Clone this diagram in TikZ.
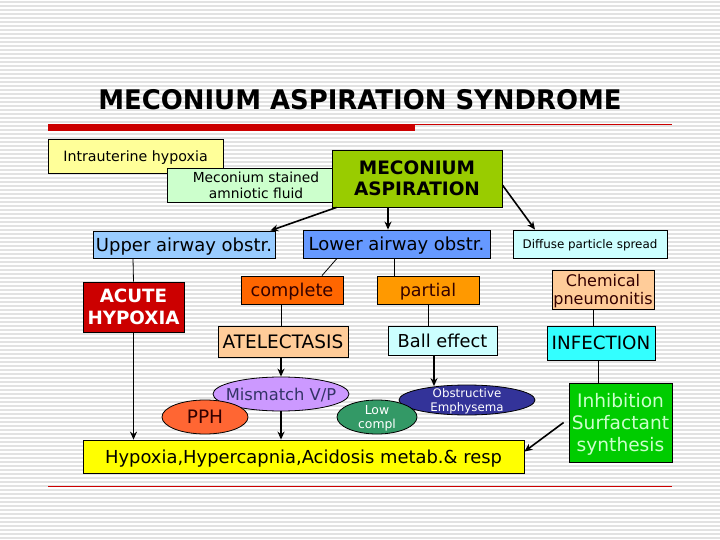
\documentclass[tikz,border=0pt]{standalone}
\usepackage{fontspec}
\setmainfont{DejaVu Sans}
\usetikzlibrary{shapes.geometric,arrows.meta}
\definecolor{cintra}{HTML}{FFFF99}
\definecolor{cstain}{HTML}{CCFFCC}
\definecolor{casp}{HTML}{99CC00}
\definecolor{cupper}{HTML}{99CCFF}
\definecolor{clower}{HTML}{6699FF}
\definecolor{cpale}{HTML}{CCFFFF}
\definecolor{cacute}{HTML}{CC0000}
\definecolor{ccomplete}{HTML}{FF6600}
\definecolor{cpeach}{HTML}{FFCC99}
\definecolor{cpartial}{HTML}{FF9900}
\definecolor{cinf}{HTML}{33FFFF}
\definecolor{cinhib}{HTML}{00CC00}
\definecolor{cinhibtxt}{HTML}{CCFFCC}
\definecolor{chyp}{HTML}{FFFF00}
\definecolor{cmis}{HTML}{CC99FF}
\definecolor{cpph}{HTML}{FF6633}
\definecolor{clow}{HTML}{339966}
\definecolor{cobst}{HTML}{333399}
\definecolor{cred}{HTML}{CC0000}
\definecolor{cstripe}{HTML}{E2E2E2}
\definecolor{cdarktxt}{HTML}{330000}
\definecolor{cmistxt}{HTML}{333366}
\tikzset{
  box/.style={draw=black, line width=0.8pt, inner sep=0pt, align=center, text depth=0pt},
  oval/.style={ellipse, draw=black, line width=0.8pt, inner sep=0pt},
  lbl/.style={inner sep=0pt, align=center, text depth=0pt},
  arr/.style={draw=black, line width=1.6pt, -{Stealth[length=8pt,width=7pt]}},
  thin/.style={draw=black, line width=0.8pt},
  fs/.style 2 args={font=\fontsize{#1}{#2}\selectfont}
}
\begin{document}
\begin{tikzpicture}[x=1pt,y=-1pt]
\useasboundingbox (0,0) rectangle (720,540);
\fill[white] (0,0) rectangle (720,540);
\foreach \k in {0,...,134} {
  \draw[cstripe, line width=1.8pt] (0,{2+4*\k}) -- (720,{2+4*\k});
}
% title
\node (title) at (360,100) {\scalebox{0.96}[1]{\fontsize{27}{32}\selectfont\bfseries MECONIUM ASPIRATION SYNDROME}};
\fill[cred] (48,124) rectangle (415,131);
\draw[cred, line width=0.8pt] (415,124) -- (672,124);
\draw[cred, line width=0.8pt] (48,486) -- (672,486);

% boxes
\node[box, fill=cintra, minimum width=175pt, minimum height=34pt, fs={14.2}{17}] (intra) at (135.5,156) {Intrauterine hypoxia};
\node[box, fill=cstain, minimum width=178pt, minimum height=34pt, fs={13.8}{16}] (stain) at (256,185) {Meconium stained\\amniotic fluid};
\node[box, fill=casp, minimum width=170pt, minimum height=57pt, fs={18.5}{21}] (asp) at (417,178.5) {\bfseries MECONIUM\\\bfseries ASPIRATION};
\node[box, fill=cupper, minimum width=182pt, minimum height=27pt, fs={18}{21}] (upper) at (184,244.5) {Upper airway obstr.};
\node[box, fill=clower, minimum width=187pt, minimum height=28pt, fs={18}{21}] (lower) at (396.5,244) {Lower airway obstr.};
\node[box, fill=cpale, minimum width=154pt, minimum height=28pt, fs={11.9}{14}] (diffuse) at (590,244) {Diffuse particle spread};
\node[box, fill=cacute, minimum width=101pt, minimum height=50pt, fs={18.3}{22}, text=white] (acute) at (133.5,307) {\bfseries ACUTE\\\bfseries HYPOXIA};
\node[box, fill=ccomplete, minimum width=102pt, minimum height=28pt, fs={17.7}{21}, text=cdarktxt] (complete) at (292,290) {complete};
\node[box, fill=cpeach, minimum width=130pt, minimum height=31pt, fs={18.5}{21}] (atel) at (283,341.5) {ATELECTASIS};
\node[box, fill=cpartial, minimum width=102pt, minimum height=28pt, fs={17.5}{21}, text=cdarktxt] (partial) at (428,290) {partial};
\node[box, fill=cpale, minimum width=109pt, minimum height=29pt, fs={17.8}{21}] (ball) at (442.5,340.5) {Ball effect};
\node[box, fill=cpeach, minimum width=102pt, minimum height=39pt, fs={16}{18}, text=cdarktxt] (chem) at (603,289.5) {Chemical\\pneumonitis};
\node[box, fill=cinf, minimum width=108pt, minimum height=34pt, fs={18.3}{21}] (inf) at (601,343) {INFECTION};
\node[box, fill=cinhib, minimum width=103pt, minimum height=79pt, fs={18.6}{22}, text=cinhibtxt] (inhib) at (620.5,422.5) {Inhibition\\Surfactant\\synthesis};
\node[box, fill=chyp, minimum width=441pt, minimum height=33pt, fs={17.9}{21}] (hyp) at (303.5,456.5) {Hypoxia,Hypercapnia,Acidosis metab.\& resp};

% ellipses (shape, then its text)
\node[oval, fill=cmis, minimum width=136pt, minimum height=34pt] (mis) at (281,394) {};
\node[lbl, fs={16.3}{19}, text=cmistxt] (mistxt) at (mis.center) {Mismatch V/P};
\node[oval, fill=cpph, minimum width=86pt, minimum height=34pt] (pph) at (205,417) {};
\node[lbl, fs={18.5}{21}, text=cdarktxt] (pphtxt) at (pph.center) {PPH};
\node[oval, fill=cobst, minimum width=136pt, minimum height=30pt] (obst) at (467,400) {};
\node[lbl, fs={11.8}{14}, text=white] (obsttxt) at (obst.center) {Obstructive\\Emphysema};
\node[oval, fill=clow, minimum width=80pt, minimum height=34pt] (low) at (377,417) {};
\node[lbl, fs={12.4}{14}, text=white] (lowtxt) at (low.center) {Low\\compl};

% connectors
\draw[arr] ([xshift=5pt]asp.south west) -- ([xshift=-5pt]upper.north east);
\draw[arr] ([xshift=-29pt]asp.south) -- ([xshift=-8.5pt]lower.north);
\draw[arr] ([yshift=-6.5pt]asp.east) -- ([xshift=-55pt]diffuse.north);
\draw[thin] ([xshift=-51pt]upper.south) -- (acute.north);
\draw[arr, line width=1.3pt] (acute.south) -- (acute.south |- hyp.north);
\draw[thin] ([xshift=-59.5pt]lower.south) -- ([xshift=30pt]complete.north);
\draw[thin] ([xshift=-2.5pt]lower.south) -- ([xshift=-34pt]partial.north);
\draw[thin] ([xshift=-11pt]complete.south) -- ([xshift=-2pt]atel.north);
\draw[arr] ([xshift=-2pt]atel.south) -- (mis.north);
\draw[arr] (mis.south) -- (mis.south |- hyp.north);
\draw[thin] (partial.south) -- (partial.south |- ball.north);
\draw[arr] ([xshift=-8.5pt]ball.south) -- ([xshift=-8.5pt,yshift=-1.5pt]ball.south |- obst.north);
\draw[thin] ([xshift=-10pt]chem.south) -- ([xshift=-8pt]inf.north);
\draw[thin] ([xshift=-3pt]inf.south) -- ([xshift=-22.5pt]inhib.north);
\draw[arr] ([xshift=-5pt]inhib.west) -- ([yshift=-12pt]hyp.north east);
\end{tikzpicture}
\end{document}
